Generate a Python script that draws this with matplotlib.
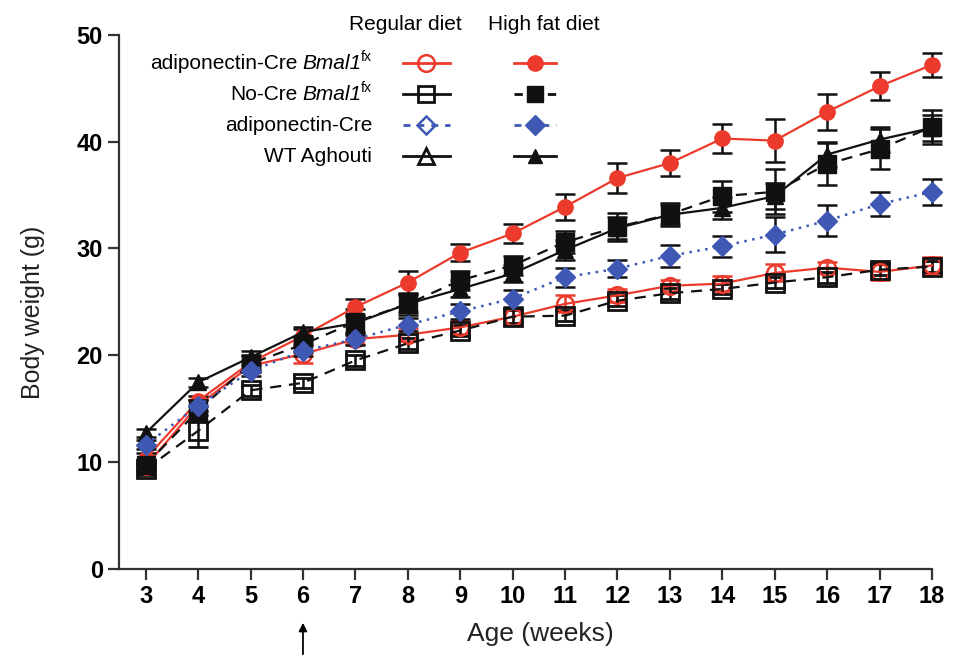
import matplotlib
matplotlib.use("Agg")
import matplotlib.pyplot as plt
from matplotlib.lines import Line2D

plt.rcParams['font.family'] = ['Liberation Sans', 'DejaVu Sans']

# weeks of age
weeks = list(range(3, 19))

# adiponectin-Cre Bmal1fx
bmal_reg = [9.6, 15.3, 19.0, 20.1, 21.5, 21.9, 22.6, 23.6, 24.8, 25.6, 26.5, 26.7, 27.7, 28.2, 27.8, 28.4]
bmal_reg_err = [0.4, 0.5, 0.5, 0.8, 0.5, 0.6, 0.6, 0.8, 0.8, 0.6, 0.5, 0.7, 0.8, 0.5, 0.8, 0.8]
bmal_hfd = [10.3, 15.7, 19.3, 21.8, 24.5, 26.8, 29.6, 31.4, 33.9, 36.6, 38.0, 40.3, 40.1, 42.8, 45.2, 47.2]
bmal_hfd_err = [0.5, 0.5, 0.6, 0.6, 0.8, 1.1, 0.8, 0.9, 1.2, 1.4, 1.2, 1.4, 2.0, 1.7, 1.3, 1.1]

# No-Cre Bmal1fx
nocre_reg = [9.3, 12.9, 16.7, 17.4, 19.5, 21.1, 22.3, 23.6, 23.7, 25.1, 25.8, 26.2, 26.8, 27.3, 28.0, 28.3]
nocre_reg_err = [0.5, 1.5, 0.5, 0.5, 0.5, 0.5, 0.5, 0.6, 0.5, 0.5, 0.5, 0.5, 0.5, 0.5, 0.5, 0.5]
nocre_hfd = [9.7, 14.8, 19.2, 21.0, 23.1, 24.8, 27.0, 28.4, 30.6, 32.0, 33.2, 34.9, 35.3, 37.9, 39.3, 41.4]
nocre_hfd_err = [0.5, 1.0, 0.8, 0.7, 1.2, 1.0, 0.9, 0.9, 1.05, 1.3, 1.1, 1.45, 2.1, 2.0, 1.9, 1.6]

# adiponectin-Cre
adipo_hfd = [11.6, 15.25, 18.5, 20.4, 21.5, 22.85, 24.1, 25.3, 27.3, 28.1, 29.3, 30.2, 31.3, 32.6, 34.15, 35.3]
adipo_hfd_err = [0.4, 0.5, 0.5, 0.5, 0.6, 0.6, 0.7, 0.8, 0.9, 0.8, 1.0, 1.0, 1.6, 1.45, 1.1, 1.25]

# WT Aghouti
wt_hfd = [12.7, 17.45, 19.8, 22.15, 23.0, 24.8, 26.2, 27.65, 29.85, 31.9, 33.15, 33.8, 34.9, 38.8, 40.2, 41.3]
wt_hfd_err = [0.4, 0.4, 0.6, 0.5, 0.8, 0.8, 0.8, 0.8, 0.9, 1.0, 0.9, 1.0, 1.2, 1.2, 1.2, 1.2]

# legend labels: (plain part, italic gene, superscript)
legend_labels = [('adiponectin-Cre ', 'Bmal1', 'fx'), ('No-Cre ', 'Bmal1', 'fx'),
                 ('adiponectin-Cre', '', ''), ('WT Aghouti', '', '')]

RED = '#ec3a2c'
BLUE = '#3e58b4'
BLACK = '#111111'

fig = plt.figure(figsize=(9.62, 6.57), dpi=100)
ax = fig.add_axes([119.5 / 962, 1 - 568.5 / 657, (932 - 119.5) / 962, (568.5 - 35) / 657])

common = dict(capsize=7, elinewidth=1.8, capthick=1.8, linewidth=1.6, clip_on=False)

ax.errorbar(weeks, bmal_reg, yerr=bmal_reg_err, color=RED, marker='o', ms=12,
            mfc='none', mec=RED, mew=1.8, ls='-', ecolor=RED, zorder=3, **common)
ax.errorbar(weeks, nocre_reg, yerr=nocre_reg_err, color=BLACK, marker='s', ms=13,
            mfc='none', mec=BLACK, mew=2, ls=(0, (5, 3.5)), ecolor=BLACK, zorder=3, **common)
ax.errorbar(weeks, bmal_hfd, yerr=bmal_hfd_err, color=RED, marker='o', ms=11,
            mfc=RED, mec=RED, ls='-', ecolor=BLACK, zorder=4, **common)
ax.errorbar(weeks, nocre_hfd, yerr=nocre_hfd_err, color=BLACK, marker='s', ms=13,
            mfc=BLACK, mec=BLACK, ls=(0, (5, 3.5)), ecolor=BLACK, zorder=4, **common)
ax.errorbar(weeks, wt_hfd, yerr=wt_hfd_err, color=BLACK, marker='^', ms=11,
            mfc=BLACK, mec=BLACK, ls='-', ecolor=BLACK, zorder=5, **common)
ax.errorbar(weeks, adipo_hfd, yerr=adipo_hfd_err, color=BLUE, marker='D', ms=10,
            mfc=BLUE, mec=BLUE, ls=(0, (1, 2.2)), lw=1.8, ecolor=BLACK, zorder=6,
            capsize=7, elinewidth=1.8, capthick=1.8, clip_on=False)

ax.set_xlim(2.5, 18)
ax.set_ylim(0, 50)
ax.set_xticks(weeks)
ax.set_yticks(range(0, 51, 10))
for s in ['top', 'right']:
    ax.spines[s].set_visible(False)
for s in ['left', 'bottom']:
    ax.spines[s].set_linewidth(1.6)
    ax.spines[s].set_color('#333333')
ax.tick_params(width=1.6, length=8, color='#333333', labelsize=17, pad=4)
for lab in ax.get_xticklabels() + ax.get_yticklabels():
    lab.set_fontweight('bold')

ax.set_ylabel('Body weight (g)', fontsize=18, color='#222222')
ax.yaxis.set_label_coords(-0.092, 0.48)
fig.text(540 / 962, 1 - 634 / 657, 'Age (weeks)', fontsize=19, color='#222222',
         ha='center', va='center')

# arrow under week 6
ax.annotate('', xy=(6, 1 - 620 / 657), xytext=(6, 0),
            xycoords=('data', 'figure fraction'), textcoords=('data', 'figure fraction'),
            arrowprops=dict(arrowstyle='-|>', color='black', lw=1.3, mutation_scale=12),
            annotation_clip=False)

# hand-built legend
fig.text(405 / 962, 1 - 25 / 657, 'Regular diet', fontsize=15, ha='center', va='center')
fig.text(544 / 962, 1 - 25 / 657, 'High fat diet', fontsize=15, ha='center', va='center')

rows_y = [63, 94, 125, 156]
reg_styles = [
    dict(color=RED, ls='-', marker='o', ms=12, mfc='none', mec=RED, mew=1.8),
    dict(color=BLACK, ls='-', marker='s', ms=12, mfc='none', mec=BLACK, mew=2),
    dict(color=BLUE, ls=(0, (2.5, 2.5)), marker='D', ms=9, mfc='none', mec=BLUE, mew=1.8),
    dict(color=BLACK, ls='-', marker='^', ms=11, mfc='none', mec=BLACK, mew=2),
]
hfd_styles = [
    dict(color=RED, ls='-', marker='o', ms=11, mfc=RED, mec=RED),
    dict(color=BLACK, ls=(0, (3, 3)), marker='s', ms=11, mfc=BLACK, mec=BLACK),
    dict(color=BLUE, ls=(0, (2.5, 2.5)), marker='D', ms=10, mfc=BLUE, mec=BLUE),
    dict(color=BLACK, ls='-', marker='^', ms=10, mfc=BLACK, mec=BLACK),
]

renderer = fig.canvas.get_renderer()
W, H = 962, 657


def text_width(t):
    return t.get_window_extent(renderer).width


for y, (plain, gene, sup), rs, hs in zip(rows_y, legend_labels, reg_styles, hfd_styles):
    fy = 1 - y / H
    base = fy - 6 / H
    right = 372
    if sup:
        t_sup = fig.text(right / W, base + 8 / H, sup, fontsize=10, ha='right', va='baseline')
        right -= text_width(t_sup)
    if gene:
        t_gene = fig.text(right / W, base, gene, fontsize=15, style='italic', ha='right', va='baseline')
        right -= text_width(t_gene) + 4
    fig.text(right / W, base, plain.strip(), fontsize=15, ha='right', va='baseline')

    fig.add_artist(Line2D([403 / W, 450 / W], [fy, fy], lw=2, transform=fig.transFigure,
                          color=rs['color'], ls=rs['ls']))
    fig.add_artist(Line2D([426 / W], [fy], lw=0, transform=fig.transFigure,
                          **{k: v for k, v in rs.items() if k not in ('color', 'ls')}))
    fig.add_artist(Line2D([514 / W, 556 / W], [fy, fy], lw=2, transform=fig.transFigure,
                          color=hs['color'], ls=hs['ls']))
    fig.add_artist(Line2D([535 / W], [fy], lw=0, transform=fig.transFigure,
                          **{k: v for k, v in hs.items() if k not in ('color', 'ls')}))

fig.savefig('out.png', dpi=100)
